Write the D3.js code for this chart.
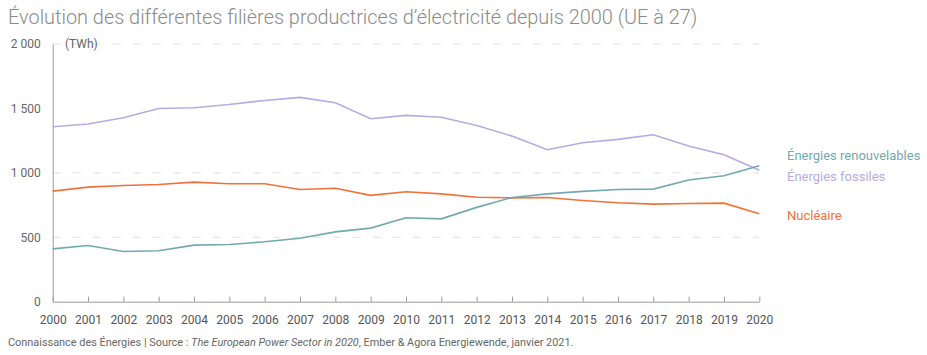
<!DOCTYPE html>
<html><head><meta charset="utf-8">
<script src="https://cdn.jsdelivr.net/npm/d3@7"></script>
<style>
html,body{margin:0;padding:0;background:#fff;}
svg{display:block;font-family:Roboto,"Noto Sans",sans-serif;}
</style></head>
<body>
<svg id="c" width="927" height="355"></svg>
<script>
const years = d3.range(2000, 2021);
const renouvelables = [410,436,390,395,439,444,465,493,542,571,651,643,732,809,837,856,871,874,944,977,1055];
const fossiles = [1358,1379,1428,1500,1505,1531,1562,1586,1544,1420,1446,1431,1368,1285,1179,1233,1260,1296,1208,1140,1021];
const nucleaire = [858,889,902,910,928,915,915,871,881,825,853,837,811,806,809,786,768,757,762,765,682];
const yTicks = [0,500,1000,1500,2000];
const gridValues = [500,1000,2000];
const seriesNames = ["Énergies renouvelables","Énergies fossiles","Nucléaire"];
const colors = ["#72a9b0","#b6abe2","#f07238"];

const svg = d3.select("#c");
const x = d3.scaleLinear().domain([2000,2020]).range([52.7,759.3]);
const y = d3.scaleLinear().domain([0,2000]).range([301.7,44]);

svg.append("text").attr("x",8).attr("y",24)
  .attr("font-size",19.9).attr("font-weight",300).attr("fill","#8a8a8a")
  .text("Évolution des différentes filières productrices d’électricité depuis 2000 (UE à 27)");

// grid
svg.append("g").selectAll("line").data(gridValues).join("line")
  .attr("x1",x(2000)).attr("x2",x(2020)).attr("y1",d=>y(d)).attr("y2",d=>y(d))
  .attr("stroke","#e0e0e0").attr("stroke-width",1).attr("stroke-dasharray","8,12");

// y axis
const yAxis = d3.axisLeft(y).tickValues(yTicks).tickSize(0).tickPadding(12)
  .tickFormat(d=>d3.format(",")(d).replace(",", " "));
const gy = svg.append("g").attr("transform",`translate(${x(2000)},0)`).call(yAxis);
gy.select(".domain").attr("stroke","#9a9a9a");
gy.selectAll("text").attr("font-size",12).attr("fill","#666").attr("font-family","Roboto");

svg.append("text").attr("x",65).attr("y",y(2000)+4).attr("font-size",12).attr("fill","#666").text("(TWh)");

// x axis
const xAxis = d3.axisBottom(x).tickValues(years).tickFormat(d3.format("d")).tickSizeInner(-5).tickSizeOuter(0).tickPadding(14);
const gx = svg.append("g").attr("transform",`translate(0,${y(0)})`).call(xAxis);
gx.select(".domain").attr("stroke","#9a9a9a");
gx.selectAll(".tick line").attr("stroke","#9a9a9a");
gx.selectAll("text").attr("font-size",12).attr("fill","#555").attr("font-family","Roboto");

// lines
const data = [renouvelables, fossiles, nucleaire];
const line = d3.line().x((d,i)=>x(years[i])).y(d=>y(d));
svg.append("g").selectAll("path").data([1,2,0]).join("path")
  .attr("d",k=>line(data[k])).attr("fill","none").attr("stroke",k=>colors[k]).attr("stroke-width",1.6);

// labels
const labelY = [160, 181, 220];
svg.append("g").selectAll("text").data(seriesNames).join("text")
  .attr("x",787).attr("y",(d,i)=>labelY[i]).attr("font-size",13).attr("fill",(d,i)=>colors[i]).text(d=>d);

// footer
const f = svg.append("text").attr("x",8).attr("y",346).attr("font-size",10.9).attr("fill","#666");
f.append("tspan").text("Connaissance des Énergies | Source : ");
f.append("tspan").attr("font-style","italic").text("The European Power Sector in 2020");
f.append("tspan").text(", Ember & Agora Energiewende, janvier 2021.");
</script>
</body></html>
